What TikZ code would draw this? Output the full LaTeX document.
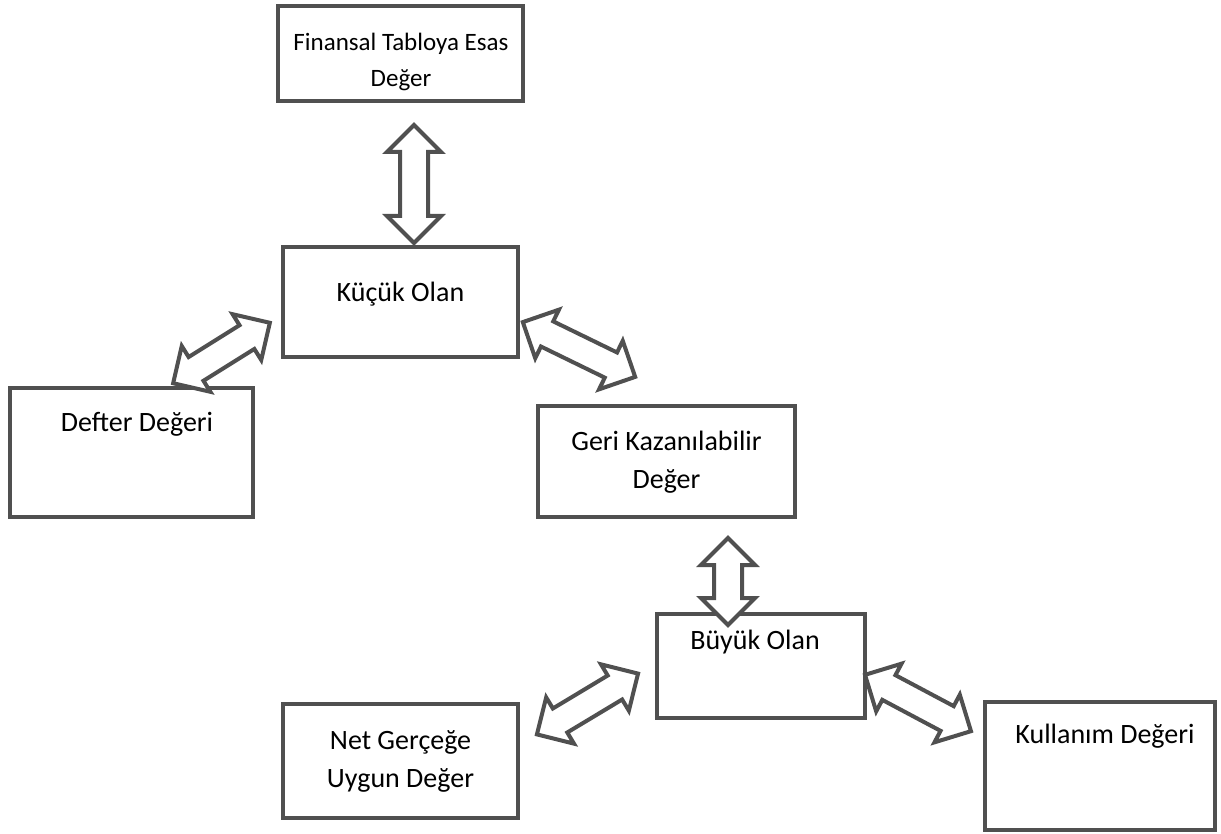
\documentclass[tikz,border=0pt]{standalone}
\usepackage{fontspec}
\setmainfont{Carlito}
\definecolor{boxgray}{HTML}{505050}
\tikzset{
  arrowline/.style={draw=boxgray,line width=4pt,fill=white,line join=miter},
  pics/darrow/.style={code={
    \path[arrowline] ({#1/2},0) -- ({#1/2-27},27) -- ({#1/2-27},14) -- ({-#1/2+27},14)
      -- ({-#1/2+27},27) -- ({-#1/2},0) -- ({-#1/2+27},-27) -- ({-#1/2+27},-14)
      -- ({#1/2-27},-14) -- ({#1/2-27},-27) -- cycle;
  }}
}
\begin{document}
\begin{tikzpicture}[x=1pt,y=-1pt,
  box/.style={draw=boxgray,line width=4pt,fill=white,rectangle,inner sep=0pt},
  lbl/.style={align=center,inner sep=0pt,font=\fontsize{28}{38}\selectfont}]
\useasboundingbox (0,0) rectangle (1221,834);
% boxes
\node[box,minimum width=245pt,minimum height=95pt] (b1) at (400.5,53.5) {};
\node[box,minimum width=235pt,minimum height=110pt] (b2) at (400.5,302) {};
\node[box,minimum width=243pt,minimum height=129pt] (b3) at (131.5,452.5) {};
\node[box,minimum width=257pt,minimum height=111pt] (b4) at (666.5,461.5) {};
\node[box,minimum width=208pt,minimum height=104pt] (b5) at (761,666) {};
\node[box,minimum width=235pt,minimum height=114pt] (b6) at (400.5,761) {};
\node[box,minimum width=230pt,minimum height=128pt] (b7) at (1100,766) {};
% labels
\node[lbl,font=\fontsize{25}{36}\selectfont] (t1) at (401,62) {Finansal Tabloya Esas\\Değer};
\node[lbl] (t2) at (400.5,294) {Küçük Olan};
\node[lbl] (t3) at (137,424) {Defter Değeri};
\node[lbl] (t4) at (666.5,462) {Geri Kazanılabilir\\Değer};
\node[lbl] (t5) at (755,642) {Büyük Olan};
\node[lbl] (t6) at (400.5,761) {Net Gerçeğe\\Uygun Değer};
\node[lbl] (t7) at (1105,736) {Kullanım Değeri};
% double block arrows
\pic[rotate=90] (a1) at (414,184) {darrow=118};
\pic[rotate=32] (a2) at (221.5,353) {darrow=114};
\pic[rotate=-26] (a3) at (579,349.5) {darrow=125};
\pic[rotate=90] (a4) at (728,581.5) {darrow=87};
\pic[rotate=31] (a5) at (587.5,704) {darrow=118};
\pic[rotate=-28] (a6) at (918,703) {darrow=120};
\end{tikzpicture}
\end{document}
